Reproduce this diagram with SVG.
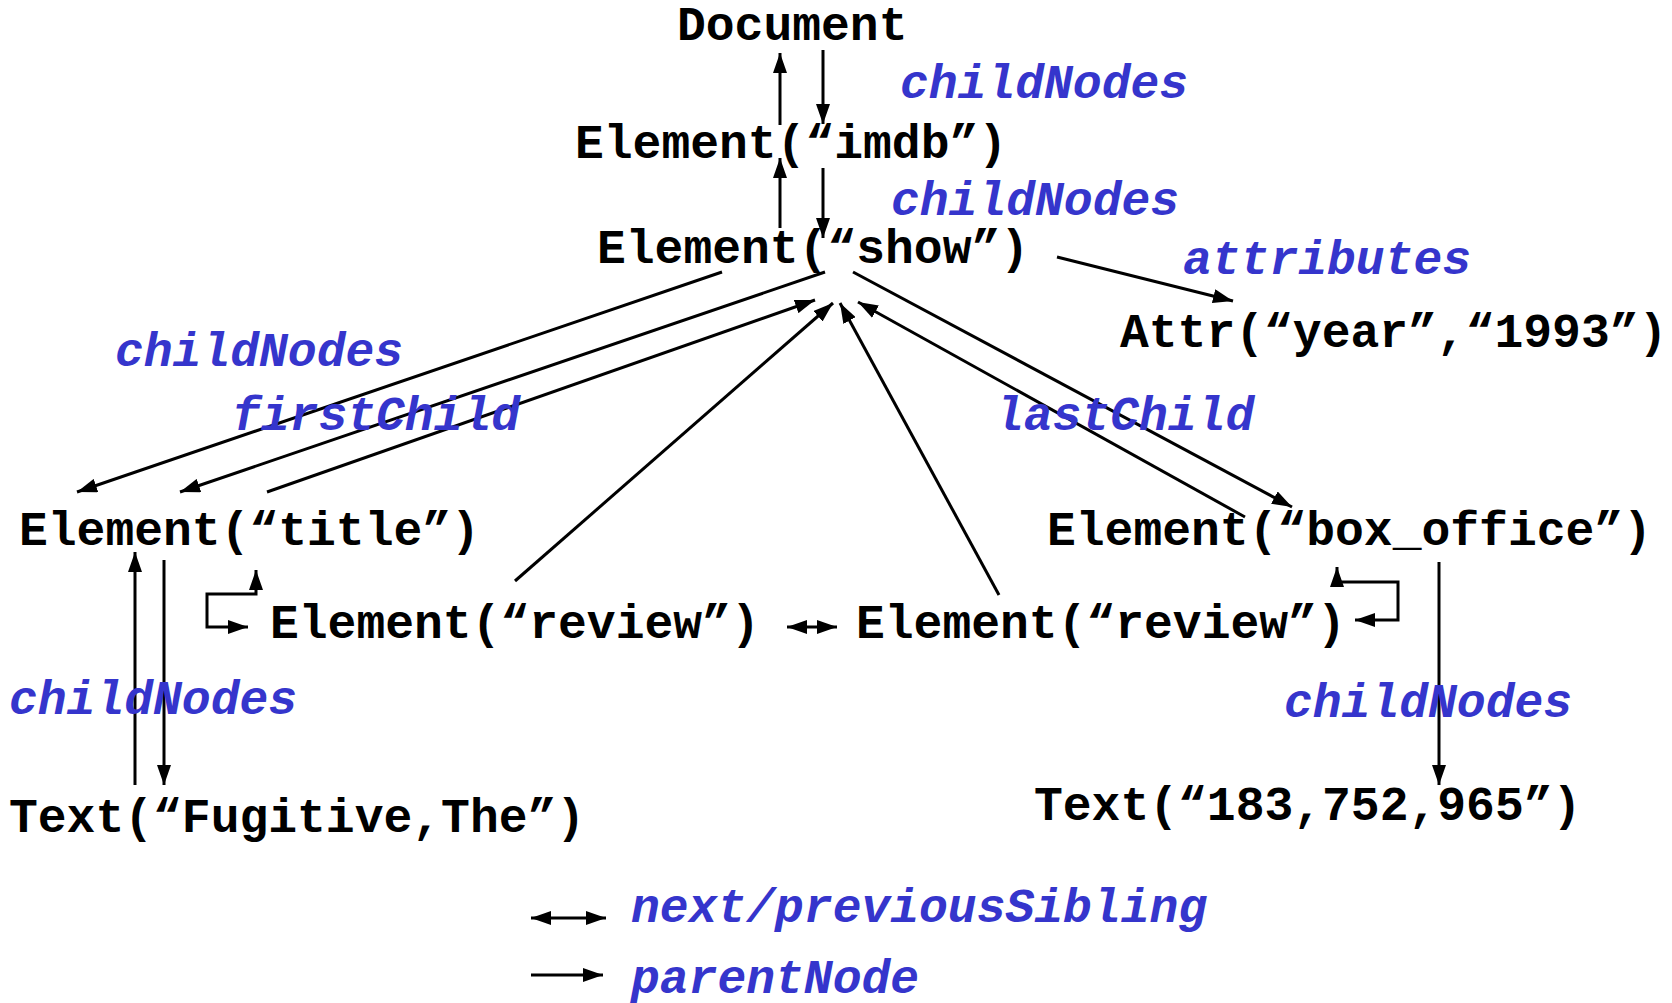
<svg xmlns="http://www.w3.org/2000/svg" width="1672" height="1003" viewBox="0 0 1672 1003">
<style>
.n{font-family:"Liberation Mono","Courier New",monospace;font-size:48px;font-weight:bold;fill:#000}
.l{font-family:"Liberation Mono","Courier New",monospace;font-size:48px;font-weight:bold;font-style:italic;fill:#3535cc}
.c{fill:none;stroke:#000;stroke-width:3}
</style>
<defs>
<marker id="ah" viewBox="0 0 20 14" refX="20" refY="7" markerWidth="20" markerHeight="14" markerUnits="userSpaceOnUse" orient="auto-start-reverse">
<path d="M0,0 L20,7 L0,14 z" fill="#000"/>
</marker>
</defs>
<rect width="1672" height="1003" fill="#fff"/>
<g id="connectors">
<path class="c" d="M823 50 L823 124" marker-end="url(#ah)"/>
<path class="c" d="M780 125 L780 53" marker-end="url(#ah)"/>
<path class="c" d="M780 228 L780 158" marker-end="url(#ah)"/>
<path class="c" d="M823 168 L823 238" marker-end="url(#ah)"/>
<path class="c" d="M1057 257 L1233 301" marker-end="url(#ah)"/>
<path class="c" d="M722 272 L77 492" marker-end="url(#ah)"/>
<path class="c" d="M825 272 L180 492" marker-end="url(#ah)"/>
<path class="c" d="M267 492 L815 300" marker-end="url(#ah)"/>
<path class="c" d="M515 581 L833 303" marker-end="url(#ah)"/>
<path class="c" d="M999 595 L840 303" marker-end="url(#ah)"/>
<path class="c" d="M1245 517 L858 302" marker-end="url(#ah)"/>
<path class="c" d="M853 272 L1292 507" marker-end="url(#ah)"/>
<path class="c" d="M135 785 L135 552" marker-end="url(#ah)"/>
<path class="c" d="M164 560 L164 785" marker-end="url(#ah)"/>
<path class="c" d="M256 570 L256 594 L207 594 L207 627 L248 627" marker-start="url(#ah)" marker-end="url(#ah)"/>
<path class="c" d="M787 627 L837 627" marker-start="url(#ah)" marker-end="url(#ah)"/>
<path class="c" d="M1337 567 L1337 582 L1398 582 L1398 620 L1355 620" marker-start="url(#ah)" marker-end="url(#ah)"/>
<path class="c" d="M1439 562 L1439 785" marker-end="url(#ah)"/>
<path class="c" d="M531 918 L606 918" marker-start="url(#ah)" marker-end="url(#ah)"/>
<path class="c" d="M531 975 L603 975" marker-end="url(#ah)"/>
</g>
<g id="labels">
<text class="l" x="900" y="98">childNodes</text>
<text class="l" x="891" y="215">childNodes</text>
<text class="l" x="1183" y="274">attributes</text>
<text class="l" x="115" y="366">childNodes</text>
<text class="l" x="232" y="430">firstChild</text>
<text class="l" x="995" y="430">lastChild</text>
<text class="l" x="9" y="714">childNodes</text>
<text class="l" x="1284" y="717">childNodes</text>
<text class="l" x="631" y="922">next/previousSibling</text>
<text class="l" x="631" y="993">parentNode</text>
</g>
<g id="document"><text class="n" x="677" y="40">Document</text></g>
<g id="imdb"><text class="n" x="575" y="158">Element(“imdb”)</text></g>
<g id="show"><text class="n" x="597" y="263">Element(“show”)</text></g>
<g id="attr"><text class="n" x="1120" y="347">Attr(“year”,“1993”)</text></g>
<g id="title"><text class="n" x="19" y="545">Element(“title”)</text></g>
<g id="review1"><text class="n" x="270" y="638">Element(“review”)</text></g>
<g id="review2"><text class="n" x="856" y="638">Element(“review”)</text></g>
<g id="box_office"><text class="n" x="1047" y="545">Element(“box_office”)</text></g>
<g id="text1"><text class="n" x="9" y="832">Text(“Fugitive,The”)</text></g>
<g id="text2"><text class="n" x="1034" y="820">Text(“183,752,965”)</text></g>
</svg>
